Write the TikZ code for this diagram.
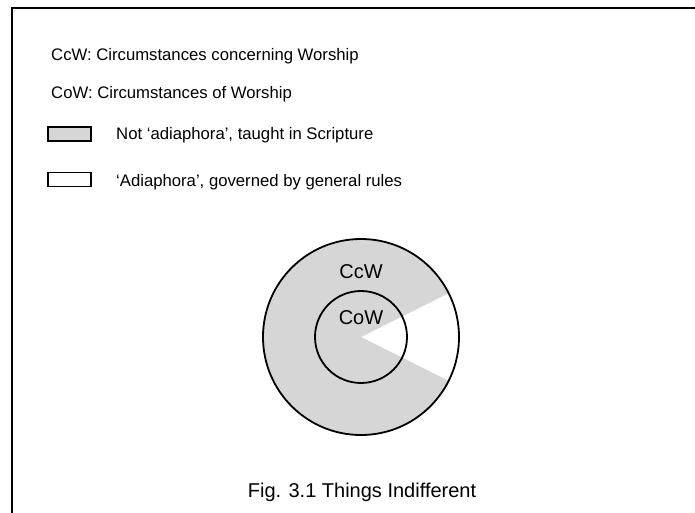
\documentclass[tikz,border=0pt]{standalone}
\usepackage{fontspec}
\setmainfont{Liberation Sans}
\definecolor{keygrey}{gray}{0.84}
\begin{document}
\begin{tikzpicture}[x=1pt,y=1pt,
  txt/.style={anchor=base west,inner sep=0pt,font=\fontsize{16.7}{20}\selectfont},
  lbl/.style={anchor=base,inner sep=0pt,font=\fontsize{20}{24}\selectfont},
  keybox/.style={draw,line width=1.8pt,minimum width=43pt,minimum height=14pt,inner sep=0pt}]
  \useasboundingbox (0,0) rectangle (695,-513);
  \draw[line width=1.8pt] (12,-513) -- (12,-8) -- (695,-8);
  \node[txt] (ccwkey) at (51,-61) {CcW: Circumstances concerning Worship};
  \node[txt] (cowkey) at (51,-99) {CoW: Circumstances of Worship};
  \node[keybox,fill=keygrey] (greybox) at (69.5,-134) {};
  \node[txt] (greytxt) at (116,-140) {Not ‘adiaphora’, taught in Scripture};
  \node[keybox,fill=white] (whitebox) at (69.5,-179.5) {};
  \node[txt] (whitetxt) at (116,-186) {‘Adiaphora’, governed by general rules};
  \coordinate (mid) at (361,-337);
  \fill[keygrey] (mid) -- ++(26.5:98) arc (26.5:333.5:98) -- cycle;
  \draw[line width=1.8pt] (mid) circle (98);
  \draw[line width=1.8pt] (mid) circle (46);
  \node[lbl] (ccw) at (361,-278) {CcW};
  \node[lbl] (cow) at (361,-324) {CoW};
  \node[lbl] (caption) at (362,-497) {Fig. 3.1 Things Indifferent};
\end{tikzpicture}
\end{document}
